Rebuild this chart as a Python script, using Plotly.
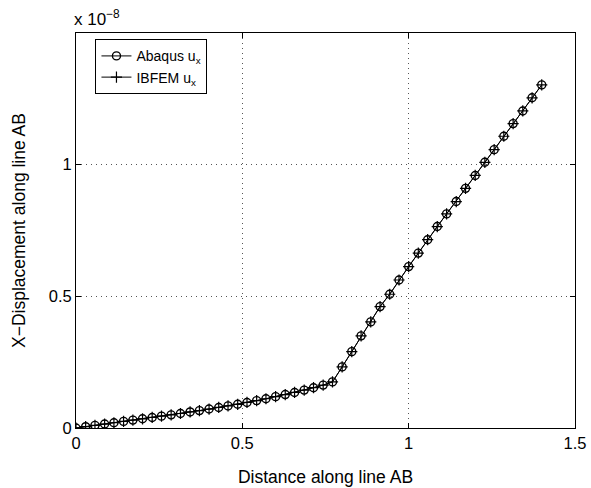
import plotly.graph_objects as go

# Distance along line AB
distance = [0.000, 0.029, 0.057, 0.086, 0.114, 0.143, 0.171, 0.200, 0.229, 0.257,
            0.286, 0.314, 0.343, 0.371, 0.400, 0.429, 0.457, 0.486, 0.514, 0.543,
            0.571, 0.600, 0.629, 0.657, 0.686, 0.714, 0.743, 0.771, 0.800, 0.829,
            0.857, 0.886, 0.914, 0.943, 0.971, 1.000, 1.029, 1.057, 1.086, 1.114,
            1.143, 1.171, 1.200, 1.229, 1.257, 1.286, 1.314, 1.343, 1.371, 1.400]

# X-displacement in units of 1e-8
abaqus_ux = [0.000, 0.005, 0.010, 0.015, 0.020, 0.025, 0.030, 0.035, 0.040, 0.045,
             0.050, 0.055, 0.061, 0.066, 0.072, 0.078, 0.084, 0.090, 0.097, 0.104,
             0.111, 0.119, 0.127, 0.135, 0.144, 0.153, 0.163, 0.175, 0.232, 0.290,
             0.350, 0.403, 0.461, 0.508, 0.562, 0.613, 0.664, 0.715, 0.765, 0.813,
             0.860, 0.910, 0.959, 1.009, 1.057, 1.108, 1.156, 1.204, 1.254, 1.303]

ibfem_ux = [0.000, 0.005, 0.010, 0.015, 0.020, 0.025, 0.030, 0.035, 0.040, 0.045,
            0.050, 0.055, 0.061, 0.066, 0.072, 0.078, 0.084, 0.090, 0.097, 0.104,
            0.111, 0.119, 0.127, 0.135, 0.144, 0.153, 0.163, 0.175, 0.232, 0.290,
            0.350, 0.403, 0.461, 0.508, 0.562, 0.613, 0.664, 0.715, 0.765, 0.813,
            0.860, 0.910, 0.959, 1.009, 1.057, 1.108, 1.156, 1.204, 1.254, 1.303]

x_ticks = [0, 0.5, 1, 1.5]
x_tick_labels = ["0", "0.5", "1", "1.5"]
y_ticks = [0, 0.5, 1]
y_tick_labels = ["0", "0.5", "1"]

FONT = "Liberation Sans, Arial, sans-serif"

fig = go.Figure()
fig.add_trace(go.Scatter(
    x=distance, y=abaqus_ux, mode="lines+markers", name="Abaqus u<sub>x</sub>",
    line=dict(color="black", width=1),
    marker=dict(symbol="circle-open", size=8, color="black", line=dict(width=1.4, color="black")),
))
fig.add_trace(go.Scatter(
    x=distance, y=ibfem_ux, mode="lines+markers", name="IBFEM u<sub>x</sub>",
    line=dict(color="black", width=1),
    marker=dict(symbol="cross-thin-open", size=8, color="black", line=dict(width=1.2, color="black")),
))

axis_common = dict(
    showline=True, linecolor="black", linewidth=1, mirror="ticks",
    ticks="inside", ticklen=5, tickwidth=1, tickcolor="black",
    showgrid=True, gridcolor="#555555", gridwidth=1, griddash="1px,4px",
    zeroline=False, automargin=False,
    tickfont=dict(family=FONT, size=16.5, color="black"),
)

fig.update_xaxes(range=[0, 1.5], tickvals=x_ticks, ticktext=x_tick_labels,
                 title=dict(text="Distance along line AB", font=dict(family=FONT, size=17.5, color="black"), standoff=19),
                 **axis_common)
fig.update_yaxes(range=[0, 1.5], tickvals=y_ticks, ticktext=y_tick_labels,
                 title=dict(text="X\u2212Displacement along line AB", font=dict(family=FONT, size=17.5, color="black"), standoff=18),
                 **axis_common)

fig.add_annotation(text="x 10<sup>\u22128</sup>", xref="paper", yref="paper", x=0, y=1.0,
                   xanchor="left", yanchor="bottom", showarrow=False, yshift=2, xshift=-4,
                   font=dict(family=FONT, size=17, color="black"))

fig.update_layout(
    width=591, height=488,
    margin=dict(l=76, r=16, t=33, b=60),
    paper_bgcolor="white", plot_bgcolor="white",
    font=dict(family=FONT, size=16, color="black"),
    showlegend=True,
    legend=dict(x=0.039, y=0.984, xanchor="left", yanchor="top",
                bgcolor="white", bordercolor="black", borderwidth=1,
                font=dict(family=FONT, size=14, color="black"),
                tracegroupgap=0, itemwidth=30),
)

fig.write_html(
    "out.html",
    config={"displayModeBar": False},
    post_script="document.body.style.margin='0';document.body.style.overflow='hidden';",
)
